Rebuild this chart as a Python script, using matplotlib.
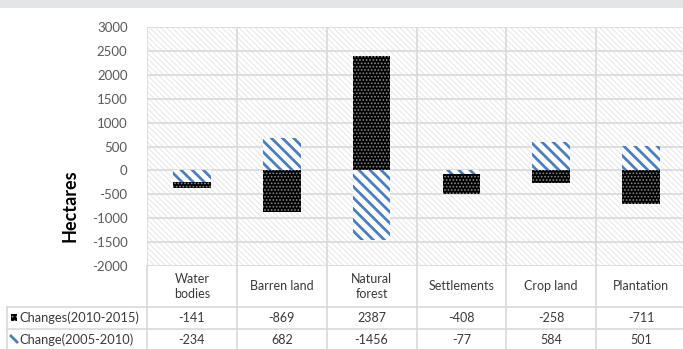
import numpy as np
import matplotlib
matplotlib.use("Agg")
import matplotlib.pyplot as plt
from matplotlib.patches import Rectangle
from matplotlib.lines import Line2D
from matplotlib import transforms

categories = ["Water\nbodies", "Barren land", "Natural\nforest", "Settlements", "Crop land", "Plantation"]
changes_2010_2015 = [-141, -869, 2387, -408, -258, -711]
change_2005_2010 = [-234, 682, -1456, -77, 584, 501]
series_names = ["Changes(2010-2015)", "Change(2005-2010)"]
y_ticks = [-2000, -1500, -1000, -500, 0, 500, 1000, 1500, 2000, 2500, 3000]
y_label = "Hectares"

plt.rcParams['font.family'] = ['Lato', 'DejaVu Sans']

W, H = 683, 349
fig = plt.figure(figsize=(W / 100, H / 100), dpi=100)
fig.patch.set_facecolor('white')

def fx(px):
    return px / W

def fy(py):
    return 1 - py / H

# top grey band
fig.patches.append(Rectangle((0, fy(8)), 1, 1 - fy(8), transform=fig.transFigure,
                             facecolor='#e4e5e7', edgecolor='none', zorder=0))

left, right, top, bottom = 147, 686, 27, 266
ax = fig.add_axes([fx(left), fy(bottom), fx(right) - fx(left), fy(top) - fy(bottom)])
ax.set_xlim(-0.5, len(categories) - 0.5)
ax.set_ylim(y_ticks[0], y_ticks[-1])
for s in ax.spines.values():
    s.set_visible(False)
ax.set_facecolor('white')

grid_c = '#d9d9d9'
# background hatching
with plt.rc_context({'hatch.linewidth': 0.6}):
    bg = Rectangle((0, 0), 1, 1, transform=ax.transAxes, facecolor='white',
                   edgecolor='#e2e2e2', hatch='\\' * 6, linewidth=0, zorder=0)
    if hasattr(bg, 'set_hatch_linewidth'):
        bg.set_hatch_linewidth(0.6)
    ax.add_patch(bg)

for yv in y_ticks:
    ax.axhline(yv, color=grid_c, lw=1.2, zorder=1)
for i in range(len(categories) + 1):
    ax.axvline(i - 0.5, color=grid_c, lw=1.2, zorder=1)

ax.set_xticks([])
ax.set_yticks(y_ticks)
ax.set_yticklabels([str(v) for v in y_ticks])
ax.tick_params(axis='y', length=0, pad=14, labelsize=9.5, labelcolor='#595959')

x = np.arange(len(categories))
a = np.array(change_2005_2010, dtype=float)
b = np.array(changes_2010_2015, dtype=float)
bottom_b = np.where(np.sign(a) == np.sign(b), a, 0.0)
bw = 0.42

with plt.rc_context({'hatch.linewidth': 2.0}):
    bars_a = ax.bar(x, a, width=bw, facecolor='white', edgecolor='#4a7ebf',
                    hatch='\\' * 3, linewidth=0, zorder=3)
    for p in bars_a:
        if hasattr(p, 'set_hatch_linewidth'):
            p.set_hatch_linewidth(2.0)
with plt.rc_context({'hatch.linewidth': 0.8}):
    bars_b = ax.bar(x, b, bottom=bottom_b, width=bw, facecolor='black',
                    edgecolor='#8a8a8a', hatch='.....', linewidth=0, zorder=3)
    for p in bars_b:
        if hasattr(p, 'set_hatch_linewidth'):
            p.set_hatch_linewidth(0.8)

# y label
fig.text(fx(70), fy(206), y_label, rotation=90, ha='center', va='center',
         fontsize=13, fontweight='bold', color='black')

# data table
tr = transforms.blended_transform_factory(ax.transData, fig.transFigure)
row_lines = [307, 329]
for i in range(len(categories) + 1):
    fig.add_artist(Line2D([i - 0.5, i - 0.5], [fy(bottom), fy(H + 2)], transform=tr,
                          color=grid_c, lw=1.2))
fig.add_artist(Line2D([fx(7), fx(7)], [fy(307), fy(H + 2)], transform=fig.transFigure,
                      color=grid_c, lw=1.2))
for ry in row_lines:
    fig.add_artist(Line2D([fx(7), 1.01], [fy(ry), fy(ry)], transform=fig.transFigure,
                          color=grid_c, lw=1.2))

txt_c = '#3a3a3a'
for i, c in enumerate(categories):
    fig.text(i, fy(286.5), c, transform=tr, ha='center', va='center', fontsize=9,
             color=txt_c, linespacing=1.35)
    fig.text(i, fy(318), str(changes_2010_2015[i]), transform=tr, ha='center',
             va='center', fontsize=9, color=txt_c)
    fig.text(i, fy(340), str(change_2005_2010[i]), transform=tr, ha='center',
             va='center', fontsize=9, color=txt_c)

fig.text(fx(19), fy(318), series_names[0], ha='left', va='center', fontsize=9.3, color=txt_c)
fig.text(fx(19), fy(340), series_names[1], ha='left', va='center', fontsize=9.3, color=txt_c)

# legend keys
with plt.rc_context({'hatch.linewidth': 0.8}):
    k = Rectangle((fx(11), fy(321)), fx(6), fy(314) - fy(321), transform=fig.transFigure,
                  facecolor='black', edgecolor='#999999', hatch='....', linewidth=0)
    fig.add_artist(k)
fig.add_artist(Line2D([fx(11), fx(17)], [fy(336), fy(342)], transform=fig.transFigure,
                      color='#4a7ebf', lw=2))

fig.savefig('out.png', dpi=100)
